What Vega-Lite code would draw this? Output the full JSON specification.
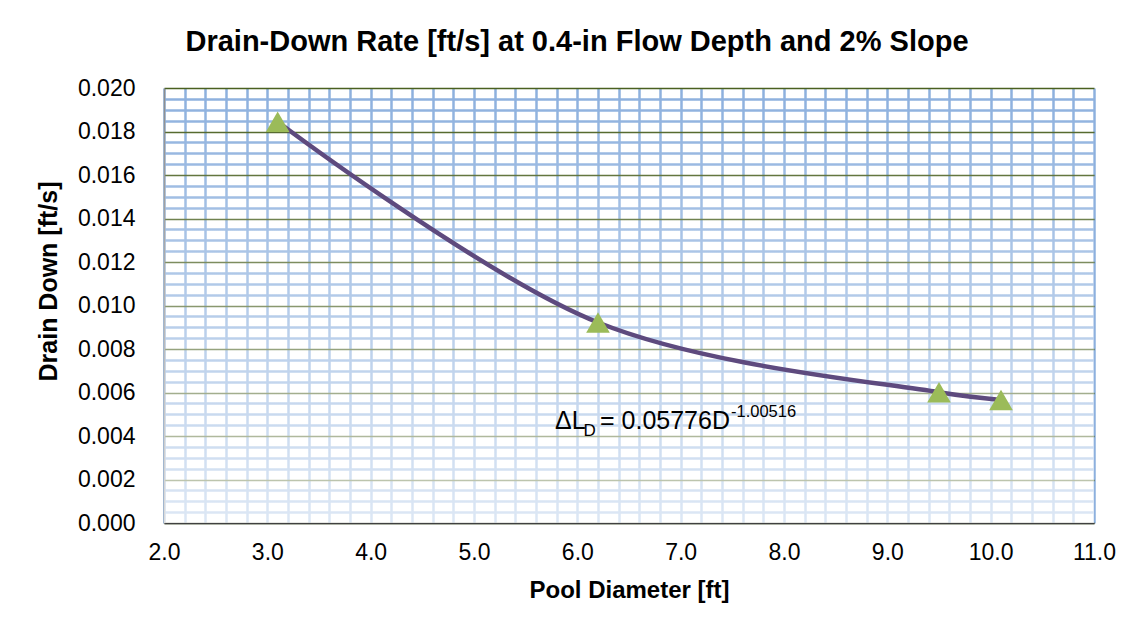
{
  "$schema": "https://vega.github.io/schema/vega-lite/v6.json",
  "width": 930,
  "height": 435,
  "autosize": {"type": "none"},
  "padding": {"left": 164, "top": 88, "right": 46, "bottom": 111},
  "background": "white",
  "title": {
    "text": "Drain-Down Rate [ft/s] at 0.4-in Flow Depth and 2% Slope",
    "font": "Liberation Sans",
    "fontSize": 29,
    "fontWeight": "bold",
    "color": "#000000",
    "anchor": "middle",
    "frame": "group",
    "dx": -52,
    "dy": 27,
    "baseline": "alphabetic",
    "offset": 24
  },
  "config": {
    "view": {"stroke": null},
    "axis": {"labelFont": "Liberation Sans", "titleFont": "Liberation Sans", "labelColor": "#000000", "titleColor": "#000000"}
  },
  "data": {
    "values": [
      {"diameter": 3.1, "rate": 0.01845},
      {"diameter": 6.2, "rate": 0.00922},
      {"diameter": 9.5, "rate": 0.00601},
      {"diameter": 10.1, "rate": 0.00566}
    ]
  },
  "layer": [
    {
      "data": {"values": [{}]},
      "mark": {
        "type": "rect",
        "fill": {
          "gradient": "linear", "x1": 0, "y1": 0, "x2": 0, "y2": 1,
          "stops": [
            {"offset": 0, "color": "rgba(255,255,255,0)"},
            {"offset": 1, "color": "rgba(255,255,255,0.7)"}
          ]
        }
      },
      "encoding": {
        "x": {"datum": 2, "type": "quantitative"},
        "x2": {"datum": 11},
        "y": {"datum": 0, "type": "quantitative"},
        "y2": {"datum": 0.02}
      }
    },
    {
      "mark": {"type": "line", "interpolate": "catmull-rom", "color": "#5e4a7e", "strokeWidth": 4.5},
      "encoding": {
        "x": {
          "field": "diameter", "type": "quantitative",
          "scale": {"domain": [2, 11], "nice": false, "zero": false},
          "axis": {
            "title": "Pool Diameter [ft]",
            "values": [2,2.2,2.4,2.6,2.8,3,3.2,3.4,3.6,3.8,4,4.2,4.4,4.6,4.8,5,5.2,5.4,5.6,5.8,6,6.2,6.4,6.6,6.8,7,7.2,7.4,7.6,7.8,8,8.2,8.4,8.6,8.8,9,9.2,9.4,9.6,9.8,10,10.2,10.4,10.6,10.8,11],
            "tickCount": 200,
            "labelExpr": "abs(datum.value - round(datum.value)) < 0.000001 ? format(datum.value, '.1f') : ''",
            "labelFontSize": 23,
            "labelBaseline": "alphabetic",
            "labelPadding": 36,
            "labelFlush": false,
            "labelOverlap": false,
            "ticks": false,
            "tickSize": 0,
            "domainColor": "#404040",
            "domainWidth": 1.5,
            "grid": true,
            "gridColor": "#8db0de",
            "gridWidth": 2.5,
            "titleFontSize": 24,
            "titleFontWeight": "bold",
            "titleBaseline": "alphabetic",
            "titleY": 74.5
          }
        },
        "y": {
          "field": "rate", "type": "quantitative",
          "scale": {"domain": [0, 0.02], "nice": false},
          "axis": {
            "title": "Drain Down [ft/s]",
            "values": [0,0.0005,0.001,0.0015,0.002,0.0025,0.003,0.0035,0.004,0.0045,0.005,0.0055,0.006,0.0065,0.007,0.0075,0.008,0.0085,0.009,0.0095,0.01,0.0105,0.011,0.0115,0.012,0.0125,0.013,0.0135,0.014,0.0145,0.015,0.0155,0.016,0.0165,0.017,0.0175,0.018,0.0185,0.019,0.0195,0.02],
            "tickCount": 200,
            "labelExpr": "abs(datum.value * 500 - round(datum.value * 500)) < 0.000001 ? format(datum.value, '.3f') : ''",
            "labelFontSize": 23,
            "labelPadding": 29,
            "labelFlush": false,
            "labelOverlap": false,
            "ticks": false,
            "tickSize": 0,
            "domainColor": "#8c8c8c",
            "domainWidth": 1.5,
            "grid": true,
            "gridColor": {"condition": {"test": "abs(datum.value * 500 - round(datum.value * 500)) < 0.000001", "value": "#4a6020"}, "value": "#8db0de"},
            "gridWidth": {"condition": {"test": "abs(datum.value * 500 - round(datum.value * 500)) < 0.000001", "value": 1.7}, "value": 2.5},
            "titleFontSize": 25,
            "titleFontWeight": "bold",
            "titleBaseline": "alphabetic",
            "titleAngle": -90,
            "titleAlign": "center",
            "titleX": -108,
            "titleY": 193
          }
        }
      }
    },
    {
      "mark": {"type": "point", "shape": "triangle-up", "filled": true, "color": "#9bbb59", "opacity": 1, "size": 560},
      "encoding": {
        "x": {"field": "diameter", "type": "quantitative"},
        "y": {"field": "rate", "type": "quantitative"}
      }
    },
    {
      "data": {"values": [{"diameter": 5.784, "rate": 0.00433}]},
      "layer": [
        {"mark": {"type": "text", "text": "ΔL", "align": "left", "baseline": "alphabetic", "font": "Liberation Sans", "fontSize": 25, "color": "#000000"},
         "encoding": {"x": {"field": "diameter", "type": "quantitative"}, "y": {"field": "rate", "type": "quantitative"}}},
        {"mark": {"type": "text", "text": "D", "align": "left", "baseline": "alphabetic", "font": "Liberation Sans", "fontSize": 17, "color": "#000000", "dx": 28.5, "dy": 7.5},
         "encoding": {"x": {"field": "diameter", "type": "quantitative"}, "y": {"field": "rate", "type": "quantitative"}}},
        {"mark": {"type": "text", "text": "= 0.05776D", "align": "left", "baseline": "alphabetic", "font": "Liberation Sans", "fontSize": 25, "color": "#000000", "dx": 45},
         "encoding": {"x": {"field": "diameter", "type": "quantitative"}, "y": {"field": "rate", "type": "quantitative"}}},
        {"mark": {"type": "text", "text": "-1.00516", "align": "left", "baseline": "alphabetic", "font": "Liberation Sans", "fontSize": 16.5, "color": "#000000", "dx": 176, "dy": -11.6},
         "encoding": {"x": {"field": "diameter", "type": "quantitative"}, "y": {"field": "rate", "type": "quantitative"}}}
      ]
    }
  ]
}
